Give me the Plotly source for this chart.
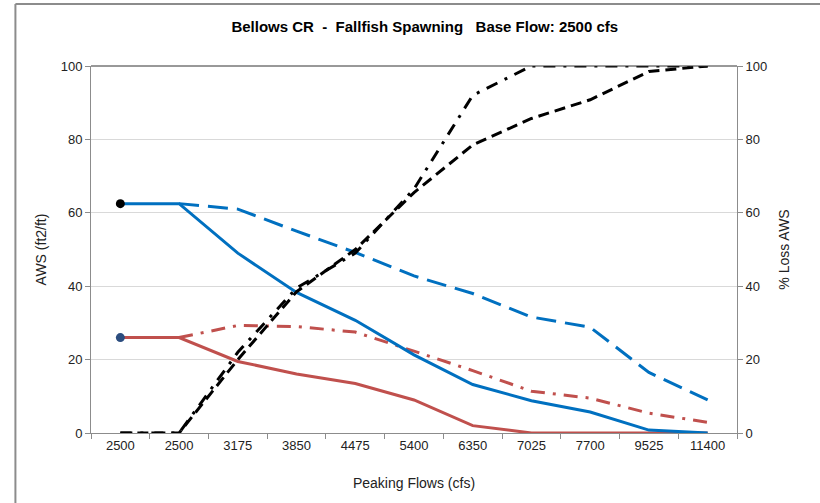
import plotly.graph_objects as go

# category labels along the x axis (2500 appears twice in the original)
flows = ["2500", "2500", "3175", "3850", "4475", "5400", "6350", "7025", "7700", "9525", "11400"]

# AWS (ft2/ft), left axis
aws_blue = [62.5, 62.5, 49.0, 38.3, 30.7, 21.3, 13.2, 8.8, 5.7, 0.8, 0.0]
aws_blue_dash = [None, 62.5, 61.0, 55.0, 49.2, 42.8, 38.0, 31.6, 28.8, 16.5, 9.0]
aws_red = [26.0, 26.0, 19.5, 16.1, 13.5, 9.0, 2.0, 0.0, 0.0, 0.0, 0.0]
aws_red_dashdot = [None, 26.0, 29.3, 29.0, 27.5, 22.3, 17.0, 11.4, 9.5, 5.4, 2.9]

# base-flow markers
base_black = [62.5]
base_navy = [26.0]

# % loss AWS, right axis
loss_dash = [0, 0, 20.0, 38.5, 50.0, 65.5, 78.5, 85.7, 90.8, 98.5, 100]
loss_dashdot = [0, 0, 22.0, 39.5, 49.0, 66.5, 92.0, 100, 100, 100, 100]

xs = list(range(len(flows)))

fig = go.Figure()

fig.add_trace(go.Scatter(x=xs, y=aws_blue_dash, mode="lines", yaxis="y",
                         line=dict(color="#0070C0", width=3, dash="20px,9px")))
fig.add_trace(go.Scatter(x=xs, y=aws_red_dashdot, mode="lines", yaxis="y",
                         line=dict(color="#C0504D", width=3, dash="14px,8px,3px,8px")))
fig.add_trace(go.Scatter(x=xs, y=aws_red, mode="lines", yaxis="y",
                         line=dict(color="#C0504D", width=3)))
fig.add_trace(go.Scatter(x=xs, y=aws_blue, mode="lines", yaxis="y",
                         line=dict(color="#0070C0", width=3)))
fig.add_trace(go.Scatter(x=xs[:1], y=base_black, mode="markers", yaxis="y",
                         marker=dict(color="black", size=9)))
fig.add_trace(go.Scatter(x=xs[:1], y=base_navy, mode="markers", yaxis="y",
                         marker=dict(color="#2C4D7F", size=9)))

fig.add_trace(go.Scatter(x=xs, y=loss_dash, mode="lines", yaxis="y2",
                         line=dict(color="black", width=3, dash="11px,6px")))
fig.add_trace(go.Scatter(x=xs, y=loss_dashdot, mode="lines", yaxis="y2",
                         line=dict(color="black", width=3, dash="12px,8px,3px,8px")))

font_fam = "Liberation Sans, Arial, sans-serif"
tick_font = dict(size=13, color="#222")

fig.update_layout(
    width=820, height=503,
    margin=dict(l=91, r=83, t=66, b=70, autoexpand=False),
    paper_bgcolor="white", plot_bgcolor="white",
    showlegend=False,
    font=dict(family=font_fam, size=12, color="#222"),
    title=dict(text="<b>Bellows CR  -  Fallfish Spawning   Base Flow: 2500 cfs</b>",
               x=0.518, xanchor="center", y=0.947, yanchor="middle",
               font=dict(size=15, color="black")),
    xaxis=dict(
        range=[-0.5, len(flows) - 0.5], automargin=False,
        tickvals=xs, ticktext=flows, ticks="", tickfont=tick_font,
        showgrid=False, zeroline=False,
        showline=True, linecolor="#8c8c8c", linewidth=1,
        minor=dict(tickvals=[i - 0.5 for i in range(len(flows) + 1)],
                   ticks="outside", ticklen=5, tickcolor="#8c8c8c"),
        title=dict(text="Peaking Flows (cfs)", standoff=26),
    ),
    yaxis=dict(
        range=[0, 100], dtick=20, automargin=False, tickfont=tick_font,
        showgrid=True, gridcolor="#d9d9d9", zeroline=False,
        showline=True, linecolor="#8c8c8c",
        ticks="outside", ticklen=5, tickcolor="#8c8c8c",
        title=dict(text="AWS (ft2/ft)", standoff=10),
    ),
    yaxis2=dict(
        range=[0, 100], dtick=20, overlaying="y", side="right", automargin=False,
        tickfont=tick_font,
        showgrid=False, zeroline=False,
        showline=True, linecolor="#8c8c8c",
        ticks="outside", ticklen=5, tickcolor="#8c8c8c",
        title=dict(text="% Loss AWS", standoff=12),
    ),
    shapes=[
        # dark top edge of the plot area
        dict(type="line", xref="paper", yref="paper", x0=0, x1=1, y0=1, y1=1,
             line=dict(color="#333", width=1)),
        # outer chart frame (left and top)
        dict(type="line", xref="paper", yref="paper", x0=-0.117, x1=-0.117, y0=-0.3, y1=1.169,
             line=dict(color="#8c8c8c", width=2)),
        dict(type="line", xref="paper", yref="paper", x0=-0.117, x1=1.3, y0=1.169, y1=1.169,
             line=dict(color="#8c8c8c", width=2)),
    ],
)

fig.write_html("out.html", config={"displayModeBar": False},
               post_script="document.body.style.margin='0';")
